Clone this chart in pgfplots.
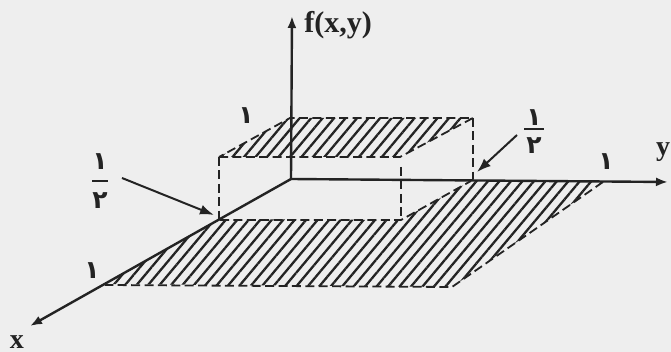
\documentclass[border=0pt]{standalone}
\usepackage{pgfplots}
\pgfplotsset{compat=1.18}
\usetikzlibrary{arrows.meta,patterns.meta}
\usepackage{fontspec}
\setmainfont{Liberation Serif}
\newfontfamily\arabicfont[Script=Arabic]{DejaVu Sans}

\definecolor{ink}{HTML}{232323}
\definecolor{paper}{HTML}{EEEEEE}

% picture coordinates are the reference's pixels, y pointing down
\pgfplotsset{
  edge/.style={ink, line width=0.9pt, dash pattern=on 4.5pt off 2.2pt},
  axisline/.style={ink, line width=1.2pt, -{Latex[length=6pt,width=4.5pt]}},
  hatch/.style={draw=none, pattern={Lines[angle=50,distance=4.4pt,line width=1.15pt]}, pattern color=ink},
}
\newcommand{\ar}[1]{{\arabicfont\bfseries\fontsize{12.5}{13}\selectfont #1}}

\begin{document}
\begin{tikzpicture}
\begin{axis}[
  scale only axis, width=335.5pt, height=176pt,
  xmin=0, xmax=671, ymin=0, ymax=352, y dir=reverse,
  axis lines=none, xtick=\empty, ytick=\empty,
  clip=false,
]
% paper
\addplot[fill=paper, draw=none] coordinates {(0,0) (671,0) (671,352) (0,352)};

% hatched floor (L-shaped) and raised top face
\addplot[hatch] coordinates {(220,219) (401,220) (471,181) (603,182) (452,287) (105,284)};
\addplot[hatch] coordinates {(219,157) (400,157) (473,118) (290,118)};

% top face outline
\addplot[edge] coordinates {(219,157) (400,157) (473,118) (290,118) (219,157)};
% vertical edges of the box
\addplot[edge] coordinates {(219,157) (219,219)};
\addplot[edge] coordinates {(401,167) (401,220)};
\addplot[edge] coordinates {(473,118) (473,179)};
% floor outline
\addplot[edge] coordinates {(220,220) (401,220) (471,181)};
\addplot[edge] coordinates {(603,182) (452,287) (105,285)};

% axes
\addplot[axisline] coordinates {(291,179) (292,16)};
\addplot[axisline] coordinates {(291,179) (668,182)};
\addplot[axisline] coordinates {(291,179) (30,326)};

% pointers to 1/2
\addplot[ink, line width=1pt, -{Latex[length=7pt,width=5pt]}] coordinates {(122,178) (214,215)};
\addplot[ink, line width=1pt, -{Latex[length=7pt,width=5pt]}] coordinates {(517,135) (477,172)};
% fraction bars
\addplot[ink, line width=0.9pt] coordinates {(92,181) (108,181)};
\addplot[ink, line width=0.9pt] coordinates {(524,129) (544,129)};

% labels
\node[anchor=west, inner sep=0pt, font=\bfseries\fontsize{15}{17}\selectfont, text=ink] at (axis cs:304,25) {f(x,y)};
\node[inner sep=0pt, font=\bfseries\fontsize{14}{16}\selectfont, text=ink] at (axis cs:17,342) {x};
\node[inner sep=0pt, font=\bfseries\fontsize{14}{16}\selectfont, text=ink] at (axis cs:663,152) {y};

\node[inner sep=0pt, text=ink] at (axis cs:246,116) {\ar{١}};
\node[inner sep=0pt, text=ink] at (axis cs:606,162) {\ar{١}};
\node[inner sep=0pt, text=ink] at (axis cs:92,271) {\ar{١}};

\node[inner sep=0pt, text=ink] at (axis cs:100,162) {\ar{١}};
\node[inner sep=0pt, text=ink] at (axis cs:100,201) {\ar{٢}};
\node[inner sep=0pt, text=ink] at (axis cs:534,118) {\ar{١}};
\node[inner sep=0pt, text=ink] at (axis cs:534,146) {\ar{٢}};
\end{axis}
\end{tikzpicture}
\end{document}
